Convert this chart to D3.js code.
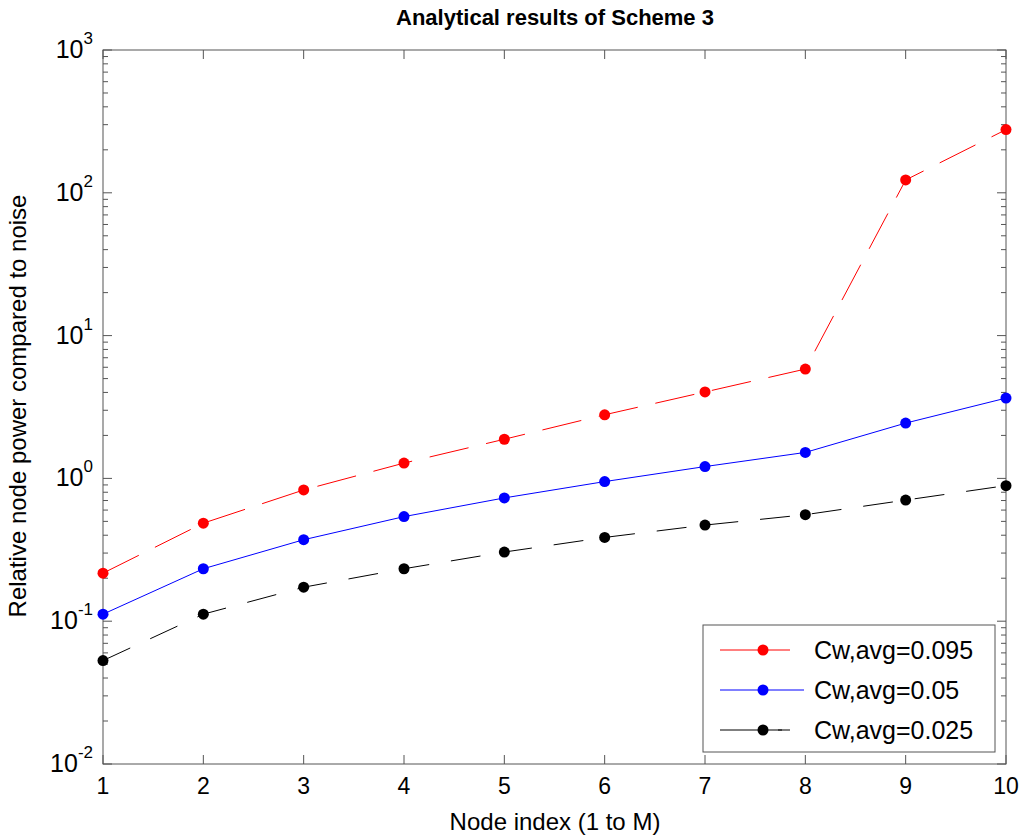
<!DOCTYPE html>
<html><head><meta charset="utf-8">
<script src="https://cdn.jsdelivr.net/npm/d3@7"></script>
<style>body{margin:0;background:#fff;font-family:"Liberation Sans",Arial,sans-serif}</style>
</head><body>
<svg id="c" width="1024" height="840"></svg>
<script>
var nodes = [1,2,3,4,5,6,7,8,9,10];
var red = [0.217,0.486,0.83,1.28,1.88,2.79,4.03,5.83,123,277];
var blue = [0.112,0.233,0.372,0.54,0.73,0.95,1.21,1.52,2.44,3.65];
var black = [0.053,0.112,0.173,0.233,0.305,0.386,0.471,0.557,0.705,0.89];
var names = ["Cw,avg=0.095","Cw,avg=0.05","Cw,avg=0.025"];
var decades = [-2,-1,0,1,2,3];

var svg = d3.select("#c");
var L = 103, R = 1006, T = 50, B = 764;
var x = d3.scaleLinear().domain([1,10]).range([L,R]);
var y = d3.scaleLog().domain([0.01,1000]).range([B,T]);

svg.append("rect").attr("x",L).attr("y",T).attr("width",R-L).attr("height",B-T)
  .attr("fill","none").attr("stroke","#555");

// x ticks
var g = svg.append("g");
nodes.forEach(function(n){
  g.append("line").attr("x1",x(n)).attr("x2",x(n)).attr("y1",B).attr("y2",B-9).attr("stroke","#555");
  g.append("line").attr("x1",x(n)).attr("x2",x(n)).attr("y1",T).attr("y2",T+9).attr("stroke","#555");
  g.append("text").attr("x",x(n)).attr("y",B+30).attr("text-anchor","middle").attr("font-size",23).text(n);
});
// y ticks
decades.forEach(function(d){
  for (var m=1;m<10;m++){
    var v = m*Math.pow(10,d);
    if (v>1000) break;
    var len = m==1 ? 9 : 5;
    g.append("line").attr("x1",L).attr("x2",L+len).attr("y1",y(v)).attr("y2",y(v)).attr("stroke","#555");
    g.append("line").attr("x1",R).attr("x2",R-len).attr("y1",y(v)).attr("y2",y(v)).attr("stroke","#555");
  }
  var t = g.append("text").attr("x",L-10).attr("y",y(Math.pow(10,d))+8).attr("text-anchor","end").attr("font-size",25);
  t.append("tspan").text("10");
  t.append("tspan").attr("dy",-14).attr("font-size",17).text(d);
});

var series = [
  {v:red, c:"#ff0000", dash:"40,18"},
  {v:blue, c:"#0000ff", dash:null},
  {v:black, c:"#000000", dash:"30,22"}
];
var line = d3.line().x(function(d,i){return x(nodes[i]);}).y(function(d){return y(d);});
series.forEach(function(s){
  svg.append("path").attr("d",line(s.v)).attr("fill","none").attr("stroke",s.c)
    .attr("stroke-width",1).attr("stroke-dasharray",s.dash);
  svg.selectAll(null).data(s.v).enter().append("circle")
    .attr("cx",function(d,i){return x(nodes[i]);}).attr("cy",function(d){return y(d);})
    .attr("r",5.5).attr("fill",s.c);
});

// legend
var lg = svg.append("g");
lg.append("rect").attr("x",703).attr("y",625).attr("width",292).attr("height",127)
  .attr("fill","#fff").attr("stroke","#555");
series.forEach(function(s,i){
  var yy = 650 + i*40;
  lg.append("line").attr("x1",720).attr("x2",i==2?782:(i==1?804:790)).attr("y1",yy).attr("y2",yy)
    .attr("stroke",s.c).attr("stroke-width",1);
  if (i==2) lg.append("line").attr("x1",778).attr("x2",790).attr("y1",yy).attr("y2",yy).attr("stroke",s.c);
  lg.append("circle").attr("cx",763).attr("cy",yy).attr("r",5.5).attr("fill",s.c);
  lg.append("text").attr("x",814).attr("y",yy+9).attr("font-size",25).text(names[i]);
});

svg.append("text").attr("x",555).attr("y",25).attr("text-anchor","middle")
  .attr("font-size",22).attr("font-weight","bold").text("Analytical results of Scheme 3");
svg.append("text").attr("x",555).attr("y",830).attr("text-anchor","middle")
  .attr("font-size",24).text("Node index (1 to M)");
svg.append("text").attr("transform","translate(26,406) rotate(-90)").attr("text-anchor","middle")
  .attr("font-size",24).text("Relative node power compared to noise");
</script>
</body></html>
